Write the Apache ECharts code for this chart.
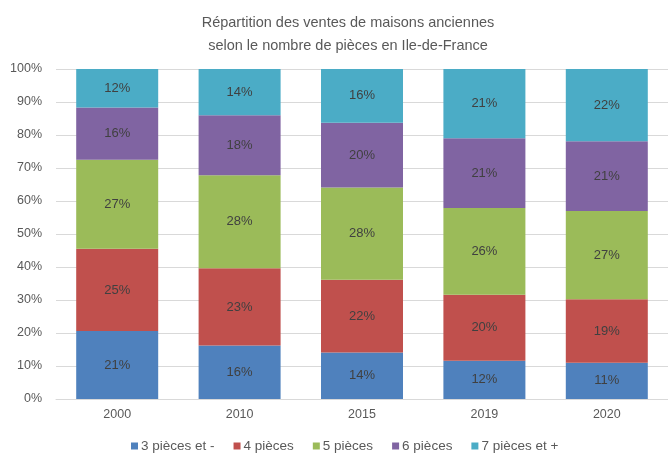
<!DOCTYPE html>
<html><head><meta charset="utf-8">
<script src="https://cdn.jsdelivr.net/npm/echarts@6/dist/echarts.min.js"></script>
<style>html,body{margin:0;padding:0;background:#fff}#c{width:668px;height:453px}</style>
</head><body><div id="c"></div>
<script>
const categories = ['2000', '2010', '2015', '2019', '2020'];
const seriesNames = ['3 pièces et -', '4 pièces', '5 pièces', '6 pièces', '7 pièces et +'];
const s3moins = [20.6, 16.2, 14.1, 11.6, 11.0];
const s4 = [24.9, 23.4, 22.0, 20.0, 19.2];
const s5 = [27.0, 28.2, 28.0, 26.3, 26.8];
const s6 = [15.8, 18.2, 19.6, 21.1, 21.1];
const s7plus = [11.7, 14.0, 16.3, 21.0, 21.9];
const yTicks = [0, 10, 20, 30, 40, 50, 60, 70, 80, 90, 100];
const colors = ['#4F81BD', '#C0504D', '#9BBB59', '#8064A2', '#4BACC6'];
const values = [s3moins, s4, s5, s6, s7plus];
const font = "'Liberation Sans', Arial, sans-serif";

const chart = echarts.init(document.getElementById('c'), null, {renderer: 'canvas'});
chart.setOption({
  animation: false,
  title: {
    text: 'Répartition des ventes de maisons anciennes\nselon le nombre de pièces en Ile-de-France',
    left: 343, top: 6, textAlign: 'center',
    textStyle: {fontFamily: font, fontSize: 14.5, fontWeight: 'normal', color: '#595959', lineHeight: 23}
  },
  legend: {
    data: seriesNames, top: 434, left: 126, itemWidth: 7, itemHeight: 7, itemGap: 19,
    icon: 'rect',
    textStyle: {fontFamily: font, fontSize: 13.5, color: '#595959', padding: [0, 0, 0, -2]}
  },
  grid: {left: 56, top: 69, width: 615, height: 330},
  xAxis: {
    type: 'category', data: categories,
    axisLine: {lineStyle: {color: '#D9D9D9'}}, axisTick: {show: false},
    axisLabel: {fontFamily: font, fontSize: 12.5, color: '#595959', margin: 9}
  },
  yAxis: {
    type: 'value', min: 0, max: 100, interval: 10,
    axisLabel: {fontFamily: font, fontSize: 12.5, color: '#595959', formatter: v => v + '%', margin: 14},
    axisLine: {show: false}, axisTick: {show: false},
    splitLine: {lineStyle: {color: '#D9D9D9'}}
  },
  series: seriesNames.map((n, i) => ({
    name: n, type: 'bar', stack: 'total', barWidth: 82,
    data: values[i],
    itemStyle: {color: colors[i]},
    label: {show: true, position: 'inside', fontFamily: font, fontSize: 13, color: '#404040',
      formatter: p => Math.round(p.value) + '%'}
  }))
});
</script></body></html>
